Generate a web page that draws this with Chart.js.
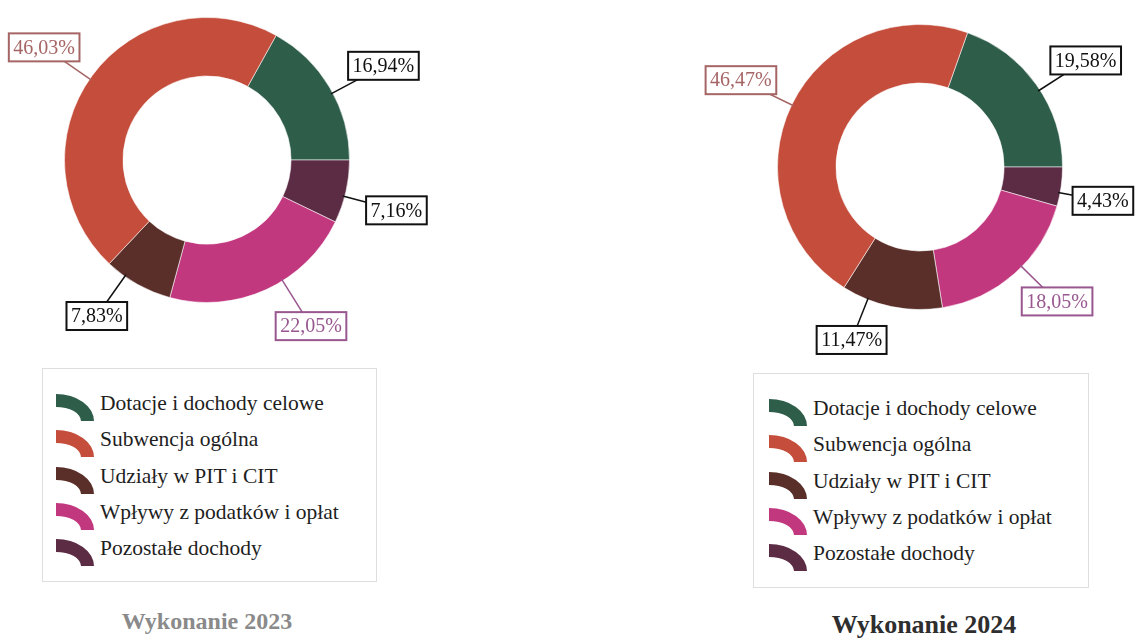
<!DOCTYPE html>
<html lang="pl">
<head>
<meta charset="utf-8">
<title>Struktura dochodów – wykonanie 2023 i 2024</title>
<script src="https://cdn.jsdelivr.net/npm/chart.js@4/dist/chart.umd.min.js"></script>
<style>
  html, body { margin: 0; padding: 0; background: #fff; }
  body { width: 1137px; height: 641px; position: relative; overflow: hidden;
         font-family: "Liberation Serif", "Times New Roman", serif; }
  canvas.ring { position: absolute; }
  .legend { position: absolute; border: 1px solid #dedede; box-sizing: border-box; }
  .legend .row { position: absolute; height: 30px; left: 0; right: 0; }
  .legend .row canvas { position: absolute; top: 0; }
  .legend .row span { position: absolute; top: -3px; font-size: 21.5px; color: #1e1e1e; white-space: nowrap; }
  .title { position: absolute; font-weight: bold; text-align: center; width: 300px; }
</style>
</head>
<body>
<canvas id="ring2023" class="ring" style="left:0;top:0"></canvas>
<canvas id="ring2024" class="ring" style="left:680px;top:0"></canvas>
<div id="legend2023" class="legend" style="left:42px;top:368px;width:335px;height:214px"></div>
<div id="legend2024" class="legend" style="left:753px;top:373px;width:336px;height:215px"></div>
<div id="title2023" class="title" style="left:57px;top:608px;font-size:24px;color:#8a8a8a"></div>
<div id="title2024" class="title" style="left:774px;top:610px;font-size:26px;color:#2e2e2e"></div>
<script>
// kategorie w kolejności legendy
var categories = ["Dotacje i dochody celowe", "Subwencja ogólna", "Udziały w PIT i CIT",
  "Wpływy z podatków i opłat", "Pozostałe dochody"];
var share2023 = [16.94, 46.03, 7.83, 22.05, 7.16];
var share2024 = [19.58, 46.47, 11.47, 18.05, 4.43];
var titles = ["Wykonanie 2023", "Wykonanie 2024"];
// kolejność wycinków w pierścieniu (zgodnie z ruchem wskazówek zegara)
var ringOrder = [0, 4, 3, 2, 1];

var colors = ["#2e5d4a", "#c44d3c", "#5a2f29", "#c2387f", "#5c2c45"];
var labelInk = ["#111111", "#a66565", "#111111", "#98578f", "#111111"];

// ustawienie etykiet: [przesunięcie kąta w stopniach, odległość od środka]
var place2023 = [[2.4, 200], [-1.5, 198], [6, 191], [-7.5, 196], [2, 196]];
var place2024 = [[2.5, 197], [0, 199], [10, 186], [-4, 192], [2.5, 186]];

function fmt(v) {
  return v.toFixed(2).replace(".", ",") + "%";
}

var boxLabels = {
  id: "boxLabels",
  afterDatasetsDraw(chart) {
    var ctx = chart.ctx;
    var meta = chart.getDatasetMeta(0);
    var ds = chart.data.datasets[0];
    ctx.save();
    ctx.font = '20px "Liberation Serif", "Times New Roman", serif';
    meta.data.forEach((arc, i) => {
      var p = arc.getProps(["x", "y", "startAngle", "endAngle", "outerRadius"], true);
      var pl = ds.place[i];
      var a = (p.startAngle + p.endAngle) / 2 + pl[0] * Math.PI / 180;
      var cos = Math.cos(a), sin = Math.sin(a);
      var bx = p.x + cos * pl[1], by = p.y + sin * pl[1];
      var text = fmt(ds.data[i]);
      var w = ctx.measureText(text).width + 9, h = 28;
      var ink = ds.ink[i];
      ctx.strokeStyle = ink;
      ctx.lineWidth = 1.5;
      ctx.beginPath();
      ctx.moveTo(p.x + cos * (p.outerRadius - 2), p.y + sin * (p.outerRadius - 2));
      ctx.lineTo(bx, by);
      ctx.stroke();
      ctx.fillStyle = "#fff";
      ctx.fillRect(bx - w / 2, by - h / 2, w, h);
      ctx.lineWidth = 2;
      ctx.strokeRect(bx - w / 2, by - h / 2, w, h);
      ctx.fillStyle = ink;
      ctx.textAlign = "center";
      ctx.textBaseline = "middle";
      ctx.fillText(text, bx, by + 1);
    });
    ctx.restore();
  }
};

function makeRing(id, values, place, size, pad) {
  var el = document.getElementById(id);
  el.style.width = size[0] + "px";
  el.style.height = size[1] + "px";
  el.width = size[0];
  el.height = size[1];
  return new Chart(el.getContext("2d"), {
    type: "doughnut",
    data: {
      labels: ringOrder.map(i => categories[i]),
      datasets: [{
        data: ringOrder.map(i => values[i]),
        backgroundColor: ringOrder.map(i => colors[i]),
        ink: ringOrder.map(i => labelInk[i]),
        place: ringOrder.map(i => place[i]),
        borderColor: "rgba(255,255,255,0.55)",
        borderWidth: 1,
        hoverOffset: 0
      }]
    },
    options: {
      responsive: false,
      animation: false,
      cutout: "59%",
      rotation: 90 - values[0] * 3.6,
      layout: { padding: pad },
      plugins: {
        legend: { display: false },
        tooltip: { enabled: false }
      }
    },
    plugins: [boxLabels]
  });
}

function makeLegend(id, left) {
  var box = document.getElementById(id);
  categories.forEach((name, i) => {
    var row = document.createElement("div");
    row.className = "row";
    row.style.top = (25 + 36.3 * i) + "px";
    var ic = document.createElement("canvas");
    ic.width = 42; ic.height = 30;
    ic.style.left = left + "px";
    var c = ic.getContext("2d");
    c.fillStyle = colors[i];
    c.beginPath();
    c.ellipse(1, 27, 38, 27, 0, -Math.PI / 2, 0);
    c.ellipse(1, 27, 25, 14, 0, 0, -Math.PI / 2, true);
    c.closePath();
    c.fill();
    var txt = document.createElement("span");
    txt.style.left = (left + 45) + "px";
    txt.textContent = name;
    row.appendChild(ic);
    row.appendChild(txt);
    box.appendChild(row);
  });
}

makeRing("ring2023", share2023, place2023, [440, 360], { left: 64, right: 90, top: 17, bottom: 57 });
makeRing("ring2024", share2024, place2024, [457, 370], { left: 97, right: 74, top: 24, bottom: 60 });
makeLegend("legend2023", 12);
makeLegend("legend2024", 14);
document.getElementById("title2023").textContent = titles[0];
document.getElementById("title2024").textContent = titles[1];
</script>
</body>
</html>
